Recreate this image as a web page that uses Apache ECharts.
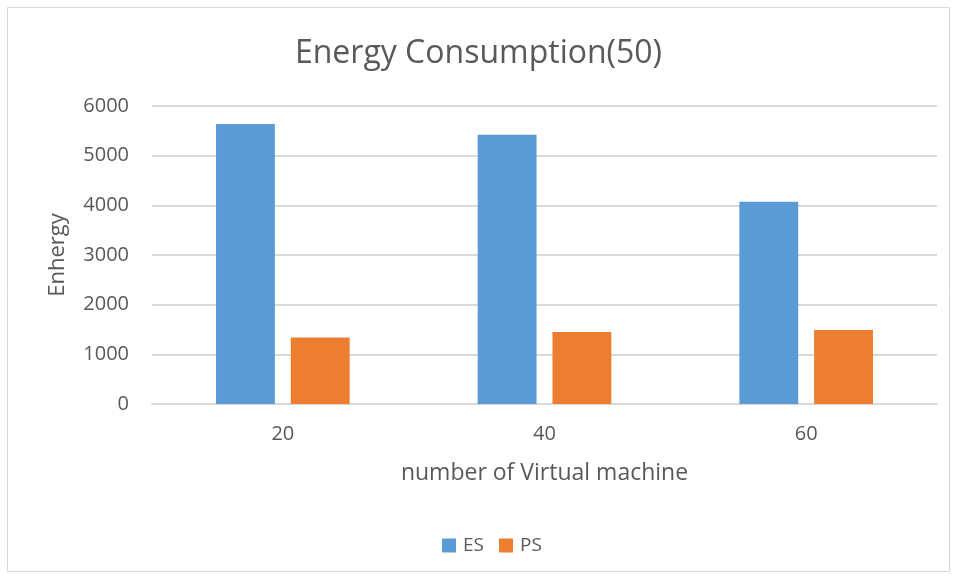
<!DOCTYPE html>
<html>
<head>
<meta charset="utf-8">
<style>
  html, body { margin: 0; padding: 0; background: #ffffff; }
  #chart { width: 957px; height: 579px; }
</style>
<script src="https://cdn.jsdelivr.net/npm/echarts@6/dist/echarts.min.js"></script>
</head>
<body>
<div id="chart"></div>
<script>
// Number of virtual machines on the x axis
const categories = ['20', '40', '60'];
// Energy per scheduling method
const esValues = [5640, 5420, 4070];
const psValues = [1340, 1450, 1490];
const yTicks = [0, 1000, 2000, 3000, 4000, 5000, 6000];

const FONT = '"Open Sans", "Noto Sans", sans-serif';
const TEXT = '#595959';

const chart = echarts.init(document.getElementById('chart'), null, { renderer: 'canvas' });

chart.setOption({
  backgroundColor: '#ffffff',
  animation: false,
  graphic: [{
    type: 'rect',
    shape: { x: 7.5, y: 7.5, width: 942, height: 564 },
    style: { fill: 'none', stroke: '#d9d9d9', lineWidth: 1 },
    silent: true
  }],
  title: {
    text: 'Energy Consumption(50)',
    left: 'center',
    top: 33,
    textStyle: { fontFamily: FONT, fontSize: 32, fontWeight: 'normal', color: TEXT }
  },
  legend: {
    bottom: 19,
    left: 437,
    itemWidth: 14,
    itemHeight: 14,
    itemGap: 15,
    icon: 'rect',
    textStyle: { fontFamily: FONT, fontSize: 19, color: TEXT, padding: [0, 0, 0, 2] },
    data: ['ES', 'PS']
  },
  grid: { left: 152, right: 20, top: 106, bottom: 175, containLabel: false },
  xAxis: {
    type: 'category',
    data: categories,
    name: 'number of Virtual machine',
    nameLocation: 'middle',
    nameGap: 58,
    nameTextStyle: { fontFamily: FONT, fontSize: 23, color: TEXT },
    axisLine: { show: true, lineStyle: { color: '#d9d9d9', width: 2 } },
    axisTick: { show: false },
    axisLabel: { fontFamily: FONT, fontSize: 20, color: TEXT, margin: 20 }
  },
  yAxis: {
    type: 'value',
    min: yTicks[0],
    max: yTicks[yTicks.length - 1],
    interval: 1000,
    name: 'Enhergy',
    nameLocation: 'middle',
    nameGap: 83,
    nameRotate: 90,
    nameTextStyle: { fontFamily: FONT, fontSize: 22, color: TEXT },
    axisLine: { show: false },
    axisTick: { show: false },
    axisLabel: {
      fontFamily: FONT, fontSize: 20, color: TEXT, margin: 23,
      formatter: (v) => String(v)
    },
    splitLine: { lineStyle: { color: '#d9d9d9', width: 2 } }
  },
  series: [
    {
      name: 'ES',
      type: 'bar',
      data: esValues,
      barWidth: '22.5%',
      barGap: '27%',
      itemStyle: { color: '#5b9bd5' }
    },
    {
      name: 'PS',
      type: 'bar',
      data: psValues,
      barWidth: '22.5%',
      barGap: '27%',
      itemStyle: { color: '#ed7d31' }
    }
  ]
});
</script>
</body>
</html>
